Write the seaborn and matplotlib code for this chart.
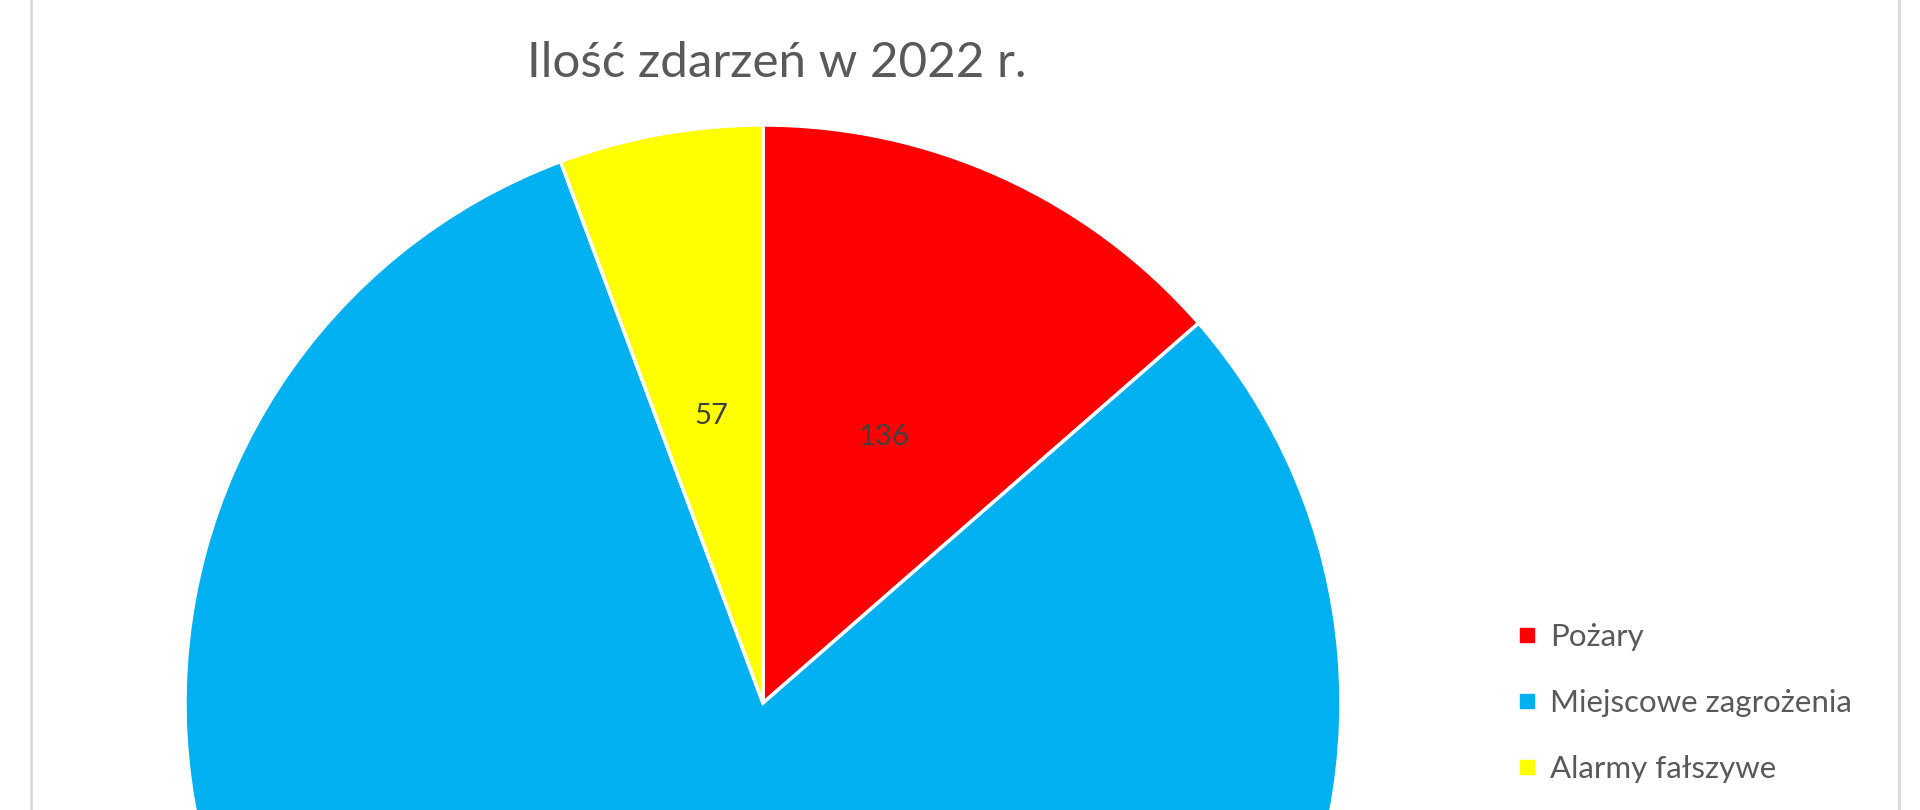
import matplotlib
matplotlib.use("Agg")
import matplotlib.pyplot as plt
from matplotlib.lines import Line2D
import seaborn as sns

categories = ["Pożary", "Miejscowe zagrożenia", "Alarmy fałszywe"]
values = [136, 808, 57]
colors = ["#FF0000", "#00B0F0", "#FFFF00"]
title = "Ilość zdarzeń w 2022 r."

sns.set_theme(style="white")
plt.rcParams['font.family'] = ['Lato', 'DejaVu Sans']

W, H = 1920, 810
fig = plt.figure(figsize=(19.2, 8.1), dpi=100)
fig.patch.set_facecolor("white")
ax = fig.add_axes([0, 0, 1, 1])

cx, cy, r = 763, H - 703, 578

def fmt(pct):
    return f"{round(pct * sum(values) / 100):d}"

wedges, texts, autotexts = ax.pie(
    values, colors=colors, startangle=90, counterclock=False,
    center=(cx, cy), radius=r, autopct=fmt, pctdistance=0.505,
    wedgeprops=dict(edgecolor="white", linewidth=2.5),
    textprops=dict(fontsize=21, color="#404040"),
)
# the label of the large slice lies below the visible (cropped) area
for t in autotexts:
    x, y = t.get_position()
    if y < 0:
        t.set_visible(False)

ax.set_xlim(0, W)
ax.set_ylim(0, H)
ax.set_aspect("auto")
ax.axis("off")

fig.text(777 / W, 1 - 63 / H, title, ha="center", va="center",
         fontsize=35.5, color="#595959")

handles = [Line2D([], [], marker="s", linestyle="", markersize=10,
                  markerfacecolor=c, markeredgecolor=c) for c in colors]
leg = fig.legend(handles, categories, loc="center left",
                 bbox_to_anchor=(1503 / W, 1 - 703 / H), frameon=False,
                 fontsize=22.5, labelcolor="#595959", handlelength=0.55,
                 handletextpad=0.45, labelspacing=1.22, borderpad=0)

for x in (31, 1899):
    fig.add_artist(Line2D([x / W, x / W], [0, 1], color="#D9D9D9",
                          linewidth=2, transform=fig.transFigure))

fig.savefig("out.png", dpi=100, facecolor="white")
